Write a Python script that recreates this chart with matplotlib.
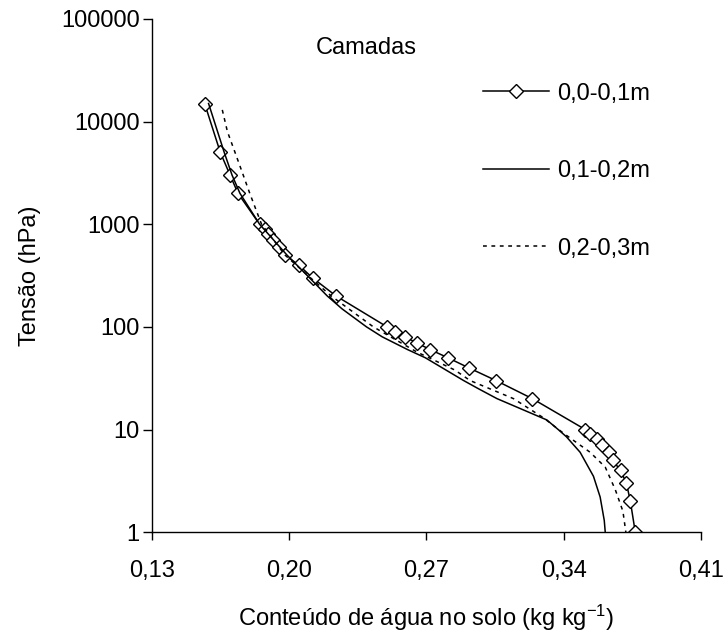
import matplotlib
matplotlib.use("Agg")
import matplotlib.pyplot as plt
from matplotlib.ticker import FixedLocator, FixedFormatter, NullLocator

plt.rcParams['font.family'] = ['Liberation Sans', 'DejaVu Sans']
plt.rcParams['mathtext.default'] = 'regular'

# camada 0,0-0,1 m (com marcadores)
tensao_01 = [15000, 5000, 3000, 2000, 1000, 900, 800, 700, 600, 500, 400, 300, 200,
             100, 90, 80, 70, 60, 50, 40, 30, 20, 10, 9, 8, 7, 6, 5, 4, 3, 2, 1]
theta_01 = [0.157, 0.165, 0.170, 0.174, 0.185, 0.188, 0.1895, 0.192, 0.195, 0.198, 0.205, 0.212, 0.224,
            0.250, 0.254, 0.259, 0.265, 0.272, 0.281, 0.2915, 0.3055, 0.324, 0.351, 0.3535,
            0.357, 0.3595, 0.363, 0.365, 0.369, 0.372, 0.374, 0.3765]

# camada 0,1-0,2 m
tensao_02 = [15000, 5000, 3000, 2000, 1000, 500, 300, 200, 150, 100, 80, 60, 50, 30, 25, 20,
             12.4, 10, 8.5, 6, 3.5, 2.2, 1.3, 1]
theta_02 = [0.159, 0.167, 0.171, 0.175, 0.185, 0.199, 0.2105, 0.2195, 0.227, 0.2395, 0.2475, 0.2605,
            0.2695, 0.289, 0.2965, 0.306, 0.3314, 0.3372, 0.3414, 0.3484, 0.3552, 0.3586, 0.3607, 0.3612]

# camada 0,2-0,3 m
tensao_03 = [13000, 8000, 5000, 3000, 2000, 1000, 500, 300, 200, 100, 57, 38, 30, 20,
             13, 9.2, 6, 4.3, 2.6, 1.6, 1]
theta_03 = [0.166, 0.1686, 0.1725, 0.1767, 0.180, 0.186, 0.198, 0.211, 0.2215, 0.243, 0.2651, 0.2845,
            0.2923, 0.3144, 0.3297, 0.3399, 0.3535, 0.3612, 0.3663, 0.3702, 0.3717]

xticks = [0.13, 0.20, 0.27, 0.34, 0.41]
xtick_labels = ["0,13", "0,20", "0,27", "0,34", "0,41"]
yticks = [1, 10, 100, 1000, 10000, 100000]
ytick_labels = ["1", "10", "100", "1000", "10000", "100000"]
labels = ["0,0-0,1m", "0,1-0,2m", "0,2-0,3m"]

fs = 17

fig = plt.figure(figsize=(7.24, 6.32), dpi=100)
ax = fig.add_axes([0.2095, 0.158, 0.7587, 0.812])

ax.plot(theta_01, tensao_01, color="black", lw=1.1, marker="D", markersize=7,
        markerfacecolor="white", markeredgecolor="black", markeredgewidth=1.0, label=labels[0])
ax.plot(theta_02, tensao_02, color="black", lw=1.1, label=labels[1])
ax.plot(theta_03, tensao_03, color="black", lw=1.1, dashes=(2.5, 3.0), label=labels[2])

ax.set_yscale("log")
ax.set_xlim(0.13, 0.41)
ax.set_ylim(1, 100000)

ax.xaxis.set_major_locator(FixedLocator(xticks))
ax.xaxis.set_major_formatter(FixedFormatter(xtick_labels))
ax.yaxis.set_major_locator(FixedLocator(yticks))
ax.yaxis.set_major_formatter(FixedFormatter(ytick_labels))
ax.yaxis.set_minor_locator(NullLocator())
ax.xaxis.set_minor_locator(NullLocator())

ax.spines["top"].set_visible(False)
ax.spines["right"].set_visible(False)
ax.spines["left"].set_linewidth(1.0)
ax.spines["bottom"].set_linewidth(1.0)
ax.tick_params(axis="x", direction="out", length=6, width=1, pad=14, labelsize=fs)
ax.tick_params(axis="y", direction="out", length=6.5, width=1, pad=2, labelsize=fs)

ax.set_xlabel("Conteúdo de água no solo (kg kg$^{-1}$)", fontsize=fs)
ax.set_ylabel("Tensão (hPa)", fontsize=fs)
ax.xaxis.set_label_coords(0.5, -0.138)
ax.yaxis.set_label_coords(-0.2015, 0.5)

ax.text(0.39, 0.943, "Camadas", transform=ax.transAxes, fontsize=fs, ha="center", va="center")
ax.legend(loc="upper left", bbox_to_anchor=(0.603, 0.876), frameon=False, fontsize=fs,
          handlelength=2.8, handletextpad=0.35, labelspacing=2.35, borderpad=0, borderaxespad=0)

fig.savefig("out.png", dpi=100)
